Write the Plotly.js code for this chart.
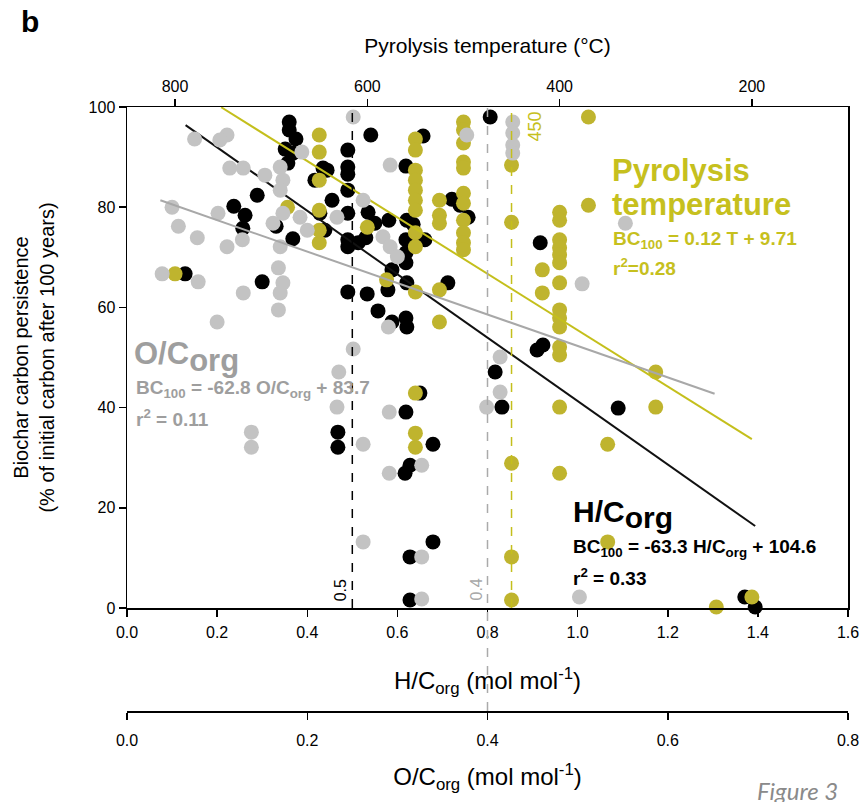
<!DOCTYPE html>
<html><head><meta charset="utf-8">
<script src="https://cdn.plot.ly/plotly-3.0.1.min.js"></script>
<style>html,body{margin:0;padding:0;background:#fff}#chart{width:864px;height:802px}</style>
</head><body><div id="chart"></div>
<script>
// ---------- data ----------
// H/C_org series (black)
const hcX = [0.36,0.36,0.375,0.351,0.368,0.357,0.541,0.49,0.435,0.444,0.417,0.49,0.49,0.49,0.619,0.657,0.289,0.237,0.262,0.257,0.331,0.368,0.455,0.428,0.49,0.439,0.535,0.55,0.581,0.621,0.635,0.721,0.739,0.757,0.49,0.49,0.513,0.53,0.619,0.619,0.619,0.588,0.621,0.661,0.712,0.49,0.533,0.579,0.557,0.588,0.619,0.621,0.3,0.129,0.806,0.917,0.91,0.923,0.817,0.832,1.09,1.371,1.394,0.468,0.468,0.65,0.619,0.679,0.628,0.617,0.679,0.628,0.628];
const hcBC = [97.0,95.4,93.6,91.6,90.8,88.8,94.4,91.4,87.8,87.4,85.4,88.0,86.6,83.4,88.2,94.2,82.4,80.2,78.4,75.8,76.2,73.7,81.4,78.8,78.8,75.4,79.0,76.8,77.4,77.4,76.6,81.6,80.4,78.0,73.5,72.1,72.9,73.9,73.5,70.9,68.9,67.5,64.9,73.5,64.9,63.1,62.7,63.5,59.3,57.1,57.9,56.1,65.1,66.7,98.0,72.9,51.5,52.5,47.1,40.1,39.9,2.2,0.2,35.1,32.1,42.9,39.1,32.7,28.5,26.9,13.2,10.2,1.6];
// O/C_org series (grey)
const ocX = [0.075,0.111,0.103,0.114,0.129,0.153,0.17,0.173,0.17,0.05,0.057,0.078,0.101,0.111,0.128,0.129,0.1,0.168,0.173,0.17,0.168,0.039,0.079,0.194,0.173,0.192,0.2,0.17,0.251,0.251,0.292,0.233,0.262,0.284,0.292,0.3,0.29,0.377,0.428,0.428,0.428,0.428,0.553,0.505,0.235,0.233,0.138,0.138,0.262,0.291,0.291,0.327,0.262,0.327,0.327,0.399,0.414,0.414,0.502,0.162];
const ocBC = [93.6,94.4,93.4,87.8,87.8,86.4,88.0,85.4,83.4,80.0,76.2,73.9,78.8,72.1,73.5,62.9,57.1,67.9,64.9,62.9,59.5,66.7,65.1,91.0,78.8,78.0,75.4,72.1,98.0,51.7,88.4,78.0,81.4,74.1,72.1,70.1,56.1,94.4,97.0,94.8,92.4,90.8,76.8,64.7,47.1,40.1,35.1,32.1,32.7,39.1,26.9,28.5,13.2,10.2,1.8,40.1,43.1,50.1,2.2,76.8];
// Pyrolysis temperature series (olive)
const tempX = [800,683,650,650,650,650,650,650,600,580,
  550,550,550,550,550,550,550,550,550,550,550,550,550,
  525,525,525,525,525,
  500,500,500,500,500,500,500,500,500,500,500,
  450,450,450,450,450,418,418,
  400,400,400,400,400,400,400,400,400,400,400,400,400,400,
  370,370,350,350,300,300,237,200];
const tempBC = [66.7,80.0,94.4,91.0,85.4,72.9,79.4,75.4,76.0,65.5,
  93.6,91.4,87.4,85.4,83.4,81.4,79.4,74.9,72.1,63.1,42.9,34.9,32.1,
  81.4,78.4,76.8,63.5,57.1,
  97.0,95.4,92.8,89.0,87.8,82.8,80.8,77.4,74.9,72.9,71.5,
  88.4,77.0,28.9,10.2,1.6,67.5,62.9,
  79.0,77.4,73.5,71.9,70.5,68.9,64.9,59.5,57.9,56.1,52.1,50.5,40.1,26.9,
  98.0,80.4,32.7,13.2,47.1,40.1,0.2,2.2];
// regression fits (from the printed equations) and their drawn extents
const fitHC = {slope:-63.3, intercept:104.6, from:0.13, to:1.394};
const fitOC = {slope:-62.8, intercept:83.7, from:0.037, to:0.652};
const fitT  = {slope:0.12, intercept:9.71, from:752, to:200};
// thresholds
const hcThreshold = 0.5, ocThreshold = 0.4, tThreshold = 450;
// ticks
const hcTicks = [0,0.2,0.4,0.6,0.8,1.0,1.2,1.4,1.6];
const ocTicks = [0,0.2,0.4,0.6,0.8];
const tTicks = [800,600,400,200];
const bcTicks = [0,20,40,60,80,100];

// ---------- styling ----------
const FONT = 'Liberation Sans, Arial, sans-serif';
const FONTB = 'Liberation Sans, Arial, sans-serif';
const OLIVE = '#bfb42e', OLIVE_T = '#c6c01e', OLIVE_L = '#c4bf1c';
const GREY = '#c3c3c3', GREY_T = '#9e9e9e', GREY_L = '#a8a8a8';
const MS = 15;

function fitLine(f){ return {x:[f.from,f.to], y:[f.slope*f.from+f.intercept, f.slope*f.to+f.intercept]}; }
const lHC = fitLine(fitHC), lOC = fitLine(fitOC), lT = fitLine(fitT);

const traces = [
  {type:'scatter',mode:'markers',x:ocX,y:ocBC,xaxis:'x3',yaxis:'y',cliponaxis:false,
   marker:{size:MS,color:GREY,line:{width:0}}},
  {type:'scatter',mode:'markers',x:tempX,y:tempBC,xaxis:'x2',yaxis:'y',cliponaxis:false,
   marker:{size:MS,color:OLIVE,line:{width:0}}},
  {type:'scatter',mode:'markers',x:hcX,y:hcBC,xaxis:'x',yaxis:'y',cliponaxis:false,
   marker:{size:MS,color:'#000',line:{width:0}}},
  {type:'scatter',mode:'lines',x:lOC.x,y:lOC.y,xaxis:'x3',yaxis:'y',line:{color:GREY_L,width:2}},
  {type:'scatter',mode:'lines',x:lT.x,y:lT.y,xaxis:'x2',yaxis:'y',line:{color:OLIVE_L,width:2}},
  {type:'scatter',mode:'lines',x:lHC.x,y:lHC.y,xaxis:'x',yaxis:'y',line:{color:'#111',width:2}}
];

const axBase = {showline:true,linecolor:'#000',linewidth:1.5,ticks:'outside',ticklen:7,tickwidth:1.5,
  tickcolor:'#000',showgrid:false,zeroline:false,tickfont:{family:FONT,size:16,color:'#000'}};

const layout = {
  width:864,height:802,margin:{l:127,r:16,t:107,b:91},
  paper_bgcolor:'#fff',plot_bgcolor:'rgba(0,0,0,0)',showlegend:false,
  font:{family:FONT,size:16,color:'#000'},
  xaxis:Object.assign({},axBase,{range:[0,1.6],tickvals:hcTicks,tickformat:'.1f',anchor:'y',ticklabelstandoff:2,
    title:{text:'H/C<sub>org</sub> (mol mol<sup>-1</sup>)',standoff:32,font:{family:FONT,size:24}}}),
  xaxis2:Object.assign({},axBase,{range:[850,100],tickvals:tTicks,overlaying:'x',side:'top',anchor:'y',
    title:{text:'Pyrolysis temperature (°C)',standoff:18,font:{family:FONT,size:21}}}),
  xaxis3:Object.assign({},axBase,{range:[0,0.8],tickvals:ocTicks,tickformat:'.1f',overlaying:'x',anchor:'free',position:0,ticklabelstandoff:7,
    title:{text:'O/C<sub>org</sub> (mol mol<sup>-1</sup>)',standoff:20,font:{family:FONT,size:24}}}),
  yaxis:Object.assign({},axBase,{range:[0,100],tickvals:bcTicks,domain:[0.1705,1],mirror:true,
    title:{text:'Biochar carbon persistence<br>(% of initial carbon after 100 years)',standoff:28,font:{family:FONT,size:20}}}),
  shapes:[
    {type:'line',xref:'x',yref:'y',x0:hcThreshold,x1:hcThreshold,y0:0,y1:100,line:{color:'#000',width:1.5,dash:'dash'}},
    {type:'line',xref:'x3',yref:'paper',x0:ocThreshold,x1:ocThreshold,y0:0,y1:1,line:{color:'#aaaaaa',width:1.5,dash:'dash'}},
    {type:'line',xref:'x2',yref:'y',x0:tThreshold,x1:tThreshold,y0:0,y1:100,line:{color:OLIVE_L,width:1.5,dash:'dash'}}
  ],
  annotations:[
    {xref:'paper',yref:'paper',x:-0.15,y:1.142,text:'<b>b</b>',showarrow:false,xanchor:'left',yanchor:'middle',font:{family:FONTB,size:30,color:'#000'}},
    {xref:'x',yref:'y',x:hcThreshold,xshift:-11,y:3.6,text:'0.5',textangle:-90,showarrow:false,font:{family:FONT,size:16,color:'#000'}},
    {xref:'x3',yref:'y',x:ocThreshold,xshift:-11,y:3.6,text:'0.4',textangle:-90,showarrow:false,font:{family:FONT,size:16,color:'#a8a8a8'}},
    {xref:'x2',yref:'y',x:tThreshold,xshift:24,y:96.0,text:'450',textangle:-90,showarrow:false,font:{family:FONT,size:18,color:OLIVE_T}},
    {xref:'x',yref:'y',x:1.071,y:87.4,text:'<b>Pyrolysis</b>',showarrow:false,xanchor:'left',yanchor:'middle',font:{family:FONTB,size:31,color:OLIVE_T}},
    {xref:'x',yref:'y',x:1.071,y:80.6,text:'<b>temperature</b>',showarrow:false,xanchor:'left',yanchor:'middle',font:{family:FONTB,size:31,color:OLIVE_T}},
    {xref:'x',yref:'y',x:1.075,y:73.5,text:'<b>BC<sub>100</sub> = 0.12 T + 9.71</b>',showarrow:false,xanchor:'left',yanchor:'middle',font:{family:FONTB,size:19,color:OLIVE_T}},
    {xref:'x',yref:'y',x:1.075,y:68.0,text:'<b>r<sup>2</sup>=0.28</b>',showarrow:false,xanchor:'left',yanchor:'middle',font:{family:FONTB,size:19,color:OLIVE_T}},
    {xref:'x',yref:'y',x:0.011,y:50.1,text:'<b>O/C<sub><span style="font-size:143%">org</span></sub></b>',showarrow:false,xanchor:'left',yanchor:'middle',font:{family:FONTB,size:31,color:GREY_T}},
    {xref:'x',yref:'y',x:0.016,y:43.7,text:'<b>BC<sub>100</sub> = -62.8 O/C<sub>org</sub> + 83.7</b>',showarrow:false,xanchor:'left',yanchor:'middle',font:{family:FONTB,size:19,color:GREY_T}},
    {xref:'x',yref:'y',x:0.016,y:37.9,text:'<b>r<sup>2</sup> = 0.11</b>',showarrow:false,xanchor:'left',yanchor:'middle',font:{family:FONTB,size:19,color:GREY_T}},
    {xref:'x',yref:'y',x:0.986,y:18.6,text:'<b>H/C<sub><span style="font-size:143%">org</span></sub></b>',showarrow:false,xanchor:'left',yanchor:'middle',font:{family:FONTB,size:30,color:'#000'}},
    {xref:'x',yref:'y',x:0.986,y:12.0,text:'<b>BC<sub>100</sub> = -63.3 H/C<sub>org</sub> + 104.6</b>',showarrow:false,xanchor:'left',yanchor:'middle',font:{family:FONTB,size:19,color:'#000'}},
    {xref:'x',yref:'y',x:0.986,y:6.2,text:'<b>r<sup>2</sup> = 0.33</b>',showarrow:false,xanchor:'left',yanchor:'middle',font:{family:FONTB,size:19,color:'#000'}},
    {xref:'paper',yref:'paper',x:0.871,y:-0.131,text:'<i>Figure 3</i>',showarrow:false,xanchor:'left',yanchor:'middle',font:{family:'Lato, Open Sans, sans-serif',size:24,color:'#8a8a8a'}}
  ]
};

Plotly.newPlot('chart', traces, layout, {displayModeBar:false, staticPlot:true});
</script></body></html>
